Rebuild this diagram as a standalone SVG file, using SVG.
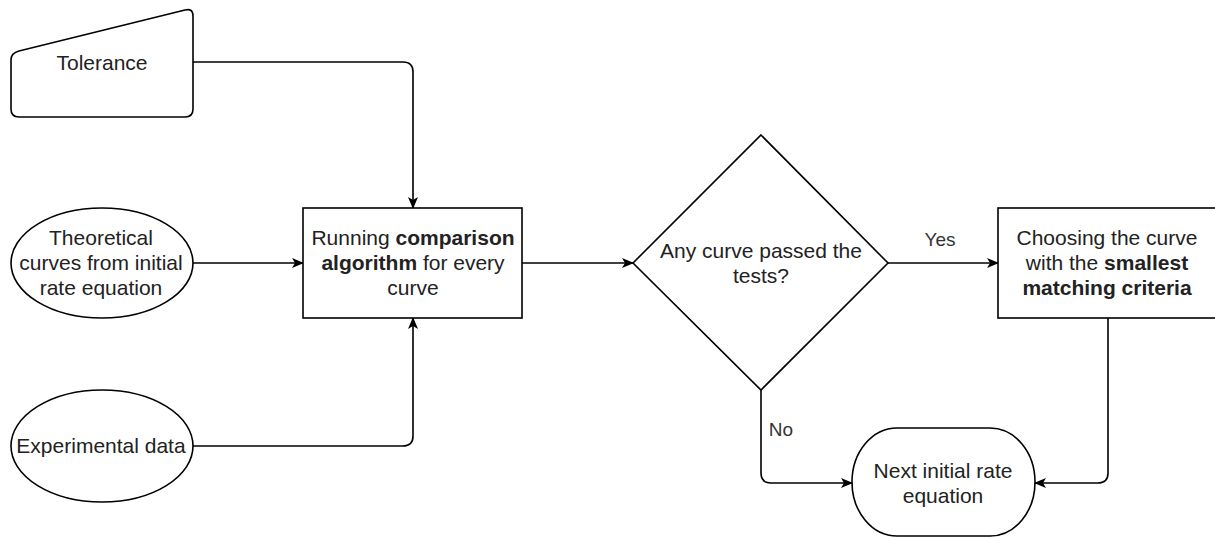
<svg xmlns="http://www.w3.org/2000/svg" width="1215" height="538" viewBox="0 0 1215 538">
  <defs>
    <marker id="arr" viewBox="0 0 12 10" refX="11" refY="5" markerWidth="12" markerHeight="10" markerUnits="userSpaceOnUse" orient="auto">
      <path d="M0,0 L12,5 L0,10 L3,5 Z" fill="#000"/>
    </marker>
    <style>
      .shape { fill: #fff; stroke: #000; stroke-width: 1.6; }
      .edge { fill: none; stroke: #000; stroke-width: 1.6; marker-end: url(#arr); }
      text { font-family: "Liberation Sans", Arial, Helvetica, sans-serif; font-size: 21px; fill: #222; text-anchor: middle; }
      .b { font-weight: bold; }
      .lbl { font-size: 19px; fill: #333; }
    </style>
  </defs>
  <rect width="1215" height="538" fill="#fff"/>

  <g id="connectors">
    <path class="edge" d="M193,62 H403 Q413,62 413,72 V208"/>
    <path class="edge" d="M193,263 H303"/>
    <path class="edge" d="M193,446 H403 Q413,446 413,436 V318"/>
    <path class="edge" d="M522,263 H633"/>
    <path class="edge" d="M888,263 H998"/>
    <path class="edge" d="M761,390 V473 Q761,483 771,483 H852"/>
    <path class="edge" d="M1108,318 V473 Q1108,483 1098,483 H1035"/>
    <text class="lbl" x="940" y="246">Yes</text>
    <text class="lbl" x="781" y="436">No</text>
  </g>

  <g id="tolerance">
    <path class="shape" d="M11,60 Q11,53 19,51 L185,10 Q193,8 193,16 L193,109 Q193,117 185,117 L19,117 Q11,117 11,109 Z"/>
    <text x="102" y="70">Tolerance</text>
  </g>

  <g id="theoretical">
    <ellipse class="shape" cx="102" cy="263" rx="91" ry="55"/>
    <text x="101" y="245">Theoretical</text>
    <text x="101" y="270">curves from initial</text>
    <text x="101" y="295">rate equation</text>
  </g>

  <g id="experimental">
    <ellipse class="shape" cx="102" cy="446" rx="91" ry="56"/>
    <text x="101" y="453">Experimental data</text>
  </g>

  <g id="comparison">
    <rect class="shape" x="303" y="208" width="219" height="110"/>
    <text x="413" y="245">Running <tspan class="b">comparison</tspan></text>
    <text x="413" y="270"><tspan class="b">algorithm</tspan> for every</text>
    <text x="413" y="295">curve</text>
  </g>

  <g id="decision">
    <path class="shape" d="M761,135 L888,263 L761,390 L633,263 Z"/>
    <text x="761" y="258">Any curve passed the</text>
    <text x="761" y="283">tests?</text>
  </g>

  <g id="choosing">
    <rect class="shape" x="998" y="208" width="219" height="110"/>
    <text x="1107" y="245">Choosing the curve</text>
    <text x="1107" y="270">with the <tspan class="b">smallest</tspan></text>
    <text x="1107" y="295"><tspan class="b">matching criteria</tspan></text>
  </g>

  <g id="next">
    <rect class="shape" x="852" y="428" width="183" height="108" rx="45" ry="54"/>
    <text x="943" y="478">Next initial rate</text>
    <text x="943" y="503">equation</text>
  </g>
</svg>
